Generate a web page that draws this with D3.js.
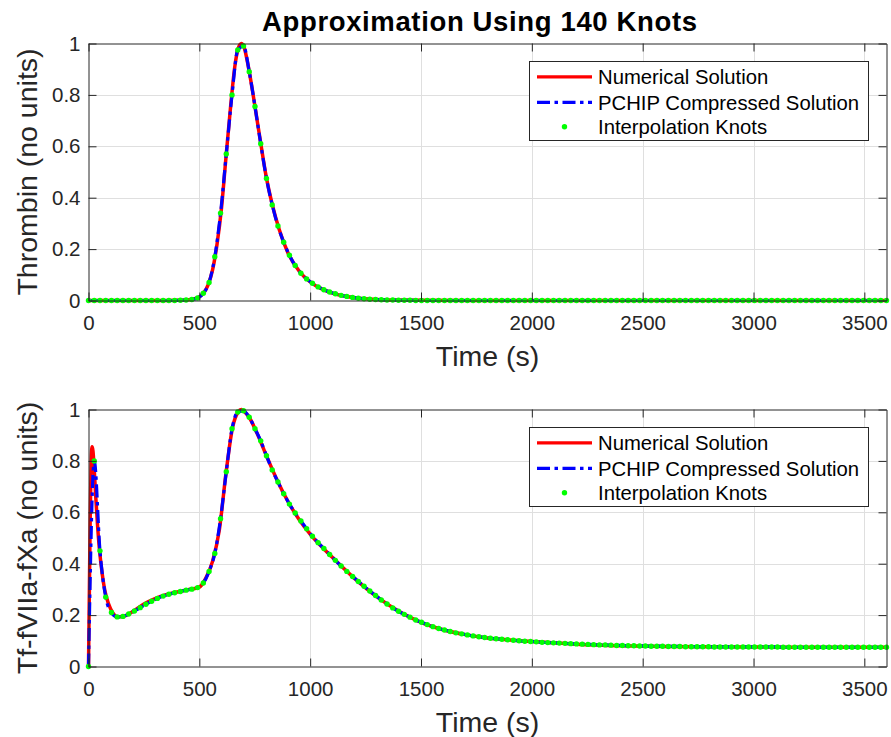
<!DOCTYPE html>
<html>
<head>
<meta charset="utf-8">
<script src="https://cdn.jsdelivr.net/npm/d3@7"></script>
<style>
  body { margin: 0; background: #fff; }
  svg { display: block; }
  text { font-family: "Liberation Sans", Arial, Helvetica, sans-serif; }
</style>
</head>
<body>
<svg id="chart" width="891" height="737"></svg>
<script>
// ---- data ----
const titleText = "Approximation Using 140 Knots";
const xAxisLabel = "Time (s)";
const yAxisLabels = ["Thrombin (no units)", "Tf-fVIIa-fXa (no units)"];
const legendLabels = ["Numerical Solution", "PCHIP Compressed Solution", "Interpolation Knots"];
const xTickValues = [0, 500, 1000, 1500, 2000, 2500, 3000, 3500];
const yTickValues = [0, 0.2, 0.4, 0.6, 0.8, 1];
const timeSpan = [0, 3600];
const knotCount = 140;

// numerical solution samples, thrombin
const thrombinTime = [0,300,400,450,480,500,520,540,560,580,600,620,640,660,675,690,700,720,740,760,
  780,800,830,860,900,950,1000,1050,1100,1150,1200,1300,1400,1500,1700,3600];
const thrombinValue = [0,0,0.001,0.003,0.007,0.014,0.03,0.062,0.12,0.22,0.36,0.555,0.745,0.91,0.98,1.0,0.99,0.915,0.815,0.705,
  0.595,0.49,0.37,0.277,0.185,0.115,0.072,0.046,0.029,0.018,0.011,0.004,0.0015,0.0005,0,0];

// knot values, thrombin
const thrombinKnots = [
  0,0,0,0,0,0,0,0,0,0,
  0,0,0,0,0,0,0.001,0.002,0.004,0.010,
  0.028,0.070,0.170,0.340,0.570,0.800,0.975,0.990,0.890,0.755,
  0.610,0.475,0.372,0.290,0.227,0.176,0.136,0.106,0.084,0.067,
  0.053,0.042,0.033,0.026,0.020,0.016,0.012,0.009,0.007,0.005,
  0.004,0.003,0.002,0.002,0.001,0.001,0.001,0,0,0,
  0,0,0,0,0,0,0,0,0,0,
  0,0,0,0,0,0,0,0,0,0,
  0,0,0,0,0,0,0,0,0,0,
  0,0,0,0,0,0,0,0,0,0,
  0,0,0,0,0,0,0,0,0,0,
  0,0,0,0,0,0,0,0,0,0,
  0,0,0,0,0,0,0,0,0,0,
  0,0,0,0,0,0,0,0,0,0
];

// numerical solution samples, Tf-fVIIa-fXa
const complexTime = [0,4,8,12,16,20,25,32,40,50,62,75,90,110,130,155,200,250,300,350,
  400,450,500,530,560,590,620,650,675,690,705,730,760,800,850,900,950,1000,1100,1200,
  1300,1400,1500,1600,1700,1800,1900,2000,2200,2400,2600,2800,3000,3300,3600];
const complexValue = [0,0.30,0.60,0.80,0.855,0.84,0.78,0.67,0.56,0.45,0.36,0.29,0.245,0.208,0.193,0.195,0.214,0.243,0.264,0.279,
  0.29,0.299,0.309,0.345,0.41,0.53,0.75,0.93,0.99,1.0,0.99,0.962,0.908,0.826,0.727,0.642,0.572,0.515,0.425,0.343,
  0.272,0.215,0.172,0.143,0.124,0.111,0.103,0.097,0.087,0.081,0.078,0.0765,0.0755,0.075,0.0745];

// knot values, Tf-fVIIa-fXa
const complexKnots = [
  0,0.800,0.450,0.270,0.210,0.193,0.195,0.204,0.216,0.229,
  0.242,0.254,0.265,0.274,0.281,0.287,0.292,0.297,0.301,0.307,
  0.325,0.370,0.440,0.575,0.758,0.925,0.990,0.995,0.970,0.925,
  0.878,0.820,0.765,0.718,0.672,0.632,0.597,0.566,0.536,0.507,
  0.482,0.459,0.436,0.413,0.391,0.370,0.350,0.331,0.312,0.294,
  0.276,0.259,0.243,0.228,0.215,0.203,0.192,0.181,0.172,0.163,
  0.155,0.148,0.142,0.136,0.131,0.127,0.123,0.119,0.116,0.113,
  0.110,0.108,0.106,0.104,0.102,0.100,0.098,0.097,0.096,0.094,
  0.093,0.092,0.091,0.090,0.089,0.088,0.087,0.086,0.085,0.084,
  0.084,0.083,0.082,0.082,0.081,0.081,0.080,0.080,0.079,0.079,
  0.079,0.078,0.078,0.078,0.077,0.077,0.077,0.077,0.077,0.076,
  0.076,0.076,0.076,0.076,0.076,0.076,0.076,0.076,0.076,0.076,
  0.076,0.075,0.075,0.075,0.075,0.075,0.075,0.075,0.075,0.075,
  0.075,0.075,0.075,0.075,0.075,0.075,0.075,0.075,0.075,0.075
];

// knots sit at evenly spaced times over the simulation window
const knotTimes = d3.range(knotCount).map(i => timeSpan[0] + i * (timeSpan[1] - timeSpan[0]) / (knotCount - 1));

// ---- layout & style ----
const axisColor = "#262626";
const gridColor = "#dfdfdf";
const colors = { numeric: "#ff0000", pchip: "#0000ff", knot: "#00ff00" };
const tickLen = 8;
const xRange = [88.5, 886.5];
const panels = [
  { y0: 300.5, y1: 43.5, label: yAxisLabels[0], t: thrombinTime, v: thrombinValue, k: thrombinKnots },
  { y0: 666.5, y1: 409.5, label: yAxisLabels[1], t: complexTime, v: complexValue, k: complexKnots }
];

const svg = d3.select("#chart");
const x = d3.scaleLinear().domain(timeSpan).range(xRange);

// title
svg.append("text")
  .attr("x", 479.5).attr("y", 31)
  .attr("text-anchor", "middle")
  .attr("font-size", 27.5).attr("font-weight", "bold")
  .attr("fill", "#000")
  .attr("textLength", 435).attr("lengthAdjust", "spacing")
  .text(titleText);

panels.forEach((p, pi) => {
  const y = d3.scaleLinear().domain([0, 1]).range([p.y0, p.y1]);
  const g = svg.append("g");

  // grid
  g.append("g").selectAll("line").data(xTickValues.filter(d => d > 0)).join("line")
    .attr("x1", d => Math.round(x(d)) + 0.5).attr("x2", d => Math.round(x(d)) + 0.5)
    .attr("y1", p.y1).attr("y2", p.y0)
    .attr("stroke", gridColor).attr("stroke-width", 1);
  g.append("g").selectAll("line").data(yTickValues.filter(d => d > 0 && d < 1)).join("line")
    .attr("x1", xRange[0]).attr("x2", xRange[1])
    .attr("y1", d => Math.round(y(d)) + 0.5).attr("y2", d => Math.round(y(d)) + 0.5)
    .attr("stroke", gridColor).attr("stroke-width", 1);

  // curves
  const numPts = p.t.map((t, i) => [t, p.v[i]]);
  const knotPts = knotTimes.map((t, i) => [t, p.k[i]]);
  const line = d3.line().x(d => x(d[0])).y(d => y(d[1])).curve(d3.curveMonotoneX);

  g.append("path").datum(numPts)
    .attr("d", line).attr("fill", "none")
    .attr("stroke", colors.numeric).attr("stroke-width", 3.5)
    .attr("stroke-linejoin", "round");
  g.append("path").datum(knotPts)
    .attr("d", line).attr("fill", "none")
    .attr("stroke", colors.pchip).attr("stroke-width", 3.2)
    .attr("stroke-dasharray", "13,4.5,3.5,4.5");
  g.append("g").selectAll("circle").data(knotPts).join("circle")
    .attr("cx", d => x(d[0])).attr("cy", d => y(d[1]))
    .attr("r", 2.7).attr("fill", colors.knot);

  // axes: labelled bottom/left, mirrored ticks on top/right
  const styleAxis = sel => {
    sel.selectAll(".domain").attr("stroke", axisColor).attr("stroke-width", 1);
    sel.selectAll(".tick line").attr("stroke", axisColor).attr("stroke-width", 1);
    sel.selectAll(".tick text").attr("fill", axisColor)
      .attr("font-size", 20.5)
      .attr("font-family", "'Liberation Sans', Arial, Helvetica, sans-serif");
  };
  const fmt = d3.format("~g");

  g.append("g").attr("transform", `translate(0,${p.y0})`)
    .call(d3.axisBottom(x).tickValues(xTickValues).tickFormat(fmt)
      .tickSizeInner(-tickLen).tickSizeOuter(0).tickPadding(15.2))
    .call(styleAxis);
  g.append("g").attr("transform", `translate(0,${p.y1})`)
    .call(d3.axisTop(x).tickValues(xTickValues).tickFormat("")
      .tickSizeInner(-tickLen).tickSizeOuter(0))
    .call(styleAxis);
  g.append("g").attr("transform", `translate(${xRange[0]},0)`)
    .call(d3.axisLeft(y).tickValues(yTickValues).tickFormat(fmt)
      .tickSizeInner(-tickLen).tickSizeOuter(0).tickPadding(8))
    .call(styleAxis);
  g.append("g").attr("transform", `translate(${xRange[1]},0)`)
    .call(d3.axisRight(y).tickValues(yTickValues).tickFormat("")
      .tickSizeInner(-tickLen).tickSizeOuter(0))
    .call(styleAxis);

  // axis titles
  g.append("text")
    .attr("x", (xRange[0] + xRange[1]) / 2).attr("y", p.y0 + 65)
    .attr("text-anchor", "middle").attr("font-size", 28.5)
    .attr("fill", axisColor).text(xAxisLabel);
  g.append("text")
    .attr("transform", `translate(37,${(p.y0 + p.y1) / 2}) rotate(-90)`)
    .attr("text-anchor", "middle").attr("font-size", 28.5)
    .attr("fill", axisColor).text(p.label);

  // legend
  const lg = g.append("g").attr("transform", `translate(529.5,${p.y1 + 18})`);
  lg.append("rect").attr("width", 339).attr("height", 79)
    .attr("fill", "#fff").attr("stroke", axisColor).attr("stroke-width", 1);
  const rows = [15.3, 40.8, 65.3];
  lg.append("line").attr("x1", 7.5).attr("x2", 62.5).attr("y1", rows[0]).attr("y2", rows[0])
    .attr("stroke", colors.numeric).attr("stroke-width", 3.2);
  lg.append("line").attr("x1", 7.5).attr("x2", 62.5).attr("y1", rows[1]).attr("y2", rows[1])
    .attr("stroke", colors.pchip).attr("stroke-width", 3.2)
    .attr("stroke-dasharray", "13,4.5,3.5,4.5");
  lg.append("circle").attr("cx", 35).attr("cy", rows[2]).attr("r", 2.7).attr("fill", colors.knot);
  lg.selectAll("text.entry").data(legendLabels).join("text")
    .attr("class", "entry")
    .attr("x", 68.5).attr("y", (d, i) => rows[i]).attr("dy", "0.36em")
    .attr("font-size", 20.3).attr("fill", "#000")
    .text(d => d);
});
</script>
</body>
</html>
